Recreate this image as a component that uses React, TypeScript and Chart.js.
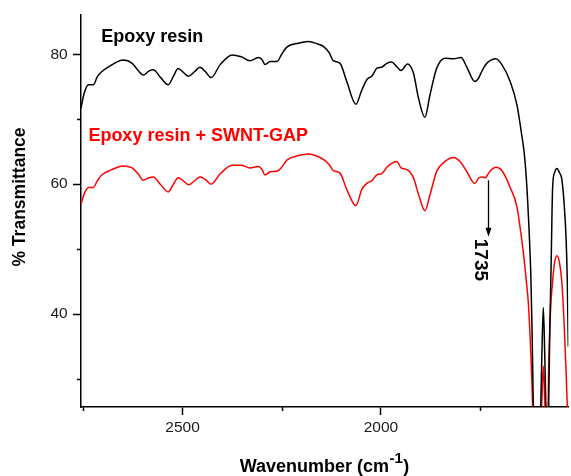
import { useEffect, useRef } from 'react';
import { Chart, registerables } from 'chart.js';

Chart.register(...registerables);

// ---- data (wavenumber, cm-1) ----
const wavenumbers = [
  2756, 2748, 2737, 2725, 2715, 2704, 2680, 2650, 2627, 2612, 2599, 2585, 2574, 2555, 2536, 2523,
  2511, 2498, 2485, 2470, 2456, 2442, 2428, 2405, 2375, 2352, 2330, 2309, 2300, 2292, 2279, 2262,
  2250, 2237, 2208, 2183, 2160, 2145, 2130, 2120, 2103, 2086, 2063, 2048, 2034, 2023, 2009, 1998,
  1985, 1973, 1960, 1949, 1933, 1918, 1905, 1889, 1876, 1859, 1838, 1817, 1798, 1784, 1763, 1754,
  1746, 1737, 1725, 1710, 1695, 1674, 1657, 1645, 1639, 1634, 1628, 1622, 1619, 1616, 1612, 1604,
  1597, 1594, 1590.5, 1587, 1584, 1580, 1577, 1574, 1571, 1567, 1562, 1556, 1550, 1544, 1538, 1533,
  1530, 1527.5,
];

const epoxyResin = [
  71.7, 74.0, 75.3, 75.3, 76.5, 77.3, 78.3, 79.1, 78.6, 77.5, 76.8, 77.4, 77.6, 76.4, 75.3, 76.6,
  77.8, 77.2, 76.6, 77.3, 78.0, 77.3, 76.4, 78.4, 79.9, 79.6, 79.0, 79.5, 79.2, 78.4, 78.9, 78.9,
  80.0, 81.1, 81.7, 81.95, 81.6, 81.2, 80.2, 79.0, 78.6, 75.8, 72.3, 74.5, 76.2, 76.6, 77.9, 78.0,
  78.6, 78.8, 78.1, 77.5, 78.5, 77.1, 73.2, 70.3, 73.8, 77.9, 79.4, 79.3, 79.5, 78.1, 75.8, 76.3,
  77.3, 78.3, 79.0, 79.3, 78.4, 75.8, 72.2, 67.6, 65.0, 61.5, 55.0, 46.0, 38.0, 27.0, 14.0, 5.0,
  25.7, 34.0, 41.0, 34.0, 25.7, 16.0, 25.7, 38.0, 47.0, 59.5, 61.8, 62.4, 61.8, 60.8, 57.0, 51.5,
  45.0, 35.0,
];

const epoxySwntGap = [
  56.9, 58.5, 59.5, 59.5, 60.5, 61.4, 62.2, 62.8, 62.5, 61.6, 60.6, 61.0, 61.1, 59.9, 58.8, 60.0,
  61.0, 60.5, 59.9, 60.5, 61.1, 60.7, 60.0, 61.6, 62.9, 62.9, 62.5, 62.7, 62.3, 61.4, 61.9, 62.0,
  62.6, 63.7, 64.4, 64.65, 64.3, 63.8, 63.0, 62.1, 61.7, 59.2, 56.7, 59.2, 60.2, 60.5, 61.5, 61.6,
  62.6, 63.2, 63.5, 62.5, 62.2, 61.0, 58.4, 55.9, 58.4, 62.0, 63.5, 64.1, 63.3, 62.0, 60.1, 60.9,
  61.1, 61.0, 62.0, 62.6, 62.1, 59.5, 56.5, 51.5, 48.5, 45.5, 41.5, 34.0, 29.0, 23.0, 12.0, 0.0,
  22.0, 27.0, 32.0, 27.0, 22.0, 18.0, 32.0, 38.0, 42.0, 45.1, 48.0, 49.0, 48.0, 45.1, 38.5, 31.0,
  25.7, 22.0,
];

const seriesNames = ['Epoxy resin', 'Epoxy resin + SWNT-GAP'];
const seriesColors = ['#000000', '#ff0000'];

const xRange = [1527.5, 2756];
const yRange = [25.7, 86.1];
const xMajorTicks = [2500, 2000];
const xMinorTicks = [2750, 2250, 1750];
const yMajorTicks = [40, 60, 80];
const yMinorTicks = [30, 50, 70];

const xTitle = 'Wavenumber (cm';
const xTitleSup = '-1';
const xTitleEnd = ')';
const yTitle = '% Transmittance';

// series label anchors (data coords)
const labelAnchors = [
  { x: 2705, y: 81.95 },
  { x: 2737.4, y: 66.6 },
];

// peak annotation
const peakLabel = '1735';
const peakArrowAt = 1729;
const peakArrowFrom = 60.6;
const peakArrowTo = 51.9;

const FONT = "'Liberation Sans', Arial, Helvetica, sans-serif";

const decorPlugin = {
  id: 'decor',
  afterDraw(chart: any) {
    const { ctx, chartArea } = chart;
    const xs = chart.scales.x;
    const ys = chart.scales.y;
    ctx.save();
    // minor ticks
    ctx.strokeStyle = '#000';
    ctx.lineWidth = 1.5;
    ctx.beginPath();
    xMinorTicks.forEach((v) => {
      const px = Math.round(xs.getPixelForValue(v)) + 0.5;
      ctx.moveTo(px, chartArea.bottom);
      ctx.lineTo(px, chartArea.bottom + 4);
    });
    yMinorTicks.forEach((v) => {
      const py = Math.round(ys.getPixelForValue(v)) + 0.5;
      ctx.moveTo(chartArea.left - 4, py);
      ctx.lineTo(chartArea.left, py);
    });
    ctx.stroke();

    // series labels
    ctx.font = `bold 18px ${FONT}`;
    ctx.textAlign = 'left';
    ctx.textBaseline = 'alphabetic';
    seriesNames.forEach((name, i) => {
      ctx.fillStyle = seriesColors[i];
      ctx.fillText(name, xs.getPixelForValue(labelAnchors[i].x), ys.getPixelForValue(labelAnchors[i].y));
    });

    // peak arrow
    const ax = Math.round(xs.getPixelForValue(peakArrowAt)) + 0.5;
    const ay0 = ys.getPixelForValue(peakArrowFrom);
    const ay1 = ys.getPixelForValue(peakArrowTo);
    ctx.strokeStyle = '#000';
    ctx.lineWidth = 1.3;
    ctx.beginPath();
    ctx.moveTo(ax, ay0);
    ctx.lineTo(ax, ay1 - 8);
    ctx.stroke();
    ctx.fillStyle = '#000';
    ctx.beginPath();
    ctx.moveTo(ax - 3, ay1 - 9);
    ctx.lineTo(ax + 3, ay1 - 9);
    ctx.lineTo(ax, ay1);
    ctx.closePath();
    ctx.fill();

    // peak label, rotated clockwise
    ctx.save();
    ctx.translate(ax - 14, ay1 + 2);
    ctx.rotate(Math.PI / 2);
    ctx.font = `bold 19px ${FONT}`;
    ctx.textAlign = 'left';
    ctx.textBaseline = 'alphabetic';
    ctx.fillText(peakLabel, 0, 0);
    ctx.restore();

    // y title
    ctx.save();
    ctx.translate(25, 197);
    ctx.rotate(-Math.PI / 2);
    ctx.font = `bold 17.5px ${FONT}`;
    ctx.textAlign = 'center';
    ctx.textBaseline = 'alphabetic';
    ctx.fillStyle = '#000';
    ctx.fillText(yTitle, 0, 0);
    ctx.restore();

    // x title with superscript
    ctx.fillStyle = '#000';
    ctx.textAlign = 'left';
    ctx.textBaseline = 'alphabetic';
    ctx.font = `bold 18px ${FONT}`;
    const w1 = ctx.measureText(xTitle).width;
    const w3 = ctx.measureText(xTitleEnd).width;
    ctx.font = `bold 15px ${FONT}`;
    const w2 = ctx.measureText(xTitleSup).width;
    const total = w1 + w2 + w3 + 1;
    const cx = 324.5;
    let tx = cx - total / 2;
    const base = 471.5;
    ctx.font = `bold 18px ${FONT}`;
    ctx.fillText(xTitle, tx, base);
    tx += w1 + 0.5;
    ctx.font = `bold 15px ${FONT}`;
    ctx.fillText(xTitleSup, tx, base - 9);
    tx += w2 + 0.5;
    ctx.font = `bold 18px ${FONT}`;
    ctx.fillText(xTitleEnd, tx, base);
    ctx.restore();
  },
};

export default function App() {
  const ref = useRef<HTMLCanvasElement | null>(null);
  useEffect(() => {
    if (!ref.current) return;
    const chart = new Chart(ref.current, {
      type: 'line',
      data: {
        datasets: [epoxyResin, epoxySwntGap].map((vals, i) => ({
          label: seriesNames[i],
          data: wavenumbers.map((w, j) => ({ x: w, y: vals[j] })),
          borderColor: seriesColors[i],
          backgroundColor: seriesColors[i],
          borderWidth: 1.5,
          pointRadius: 0,
          fill: false,
          cubicInterpolationMode: 'monotone',
        })),
      },
      options: {
        animation: false,
        responsive: false,
        devicePixelRatio: 1,
        layout: { padding: { left: 0, top: 13, right: 2.7, bottom: 0 } },
        elements: { line: { capBezierPoints: false } },
        plugins: {
          legend: { display: false },
          tooltip: { enabled: false },
          title: { display: false },
        },
        scales: {
          x: {
            type: 'linear',
            reverse: true,
            min: xRange[0],
            max: xRange[1],
            afterBuildTicks: (s: any) => {
              s.ticks = xMajorTicks.map((v) => ({ value: v }));
            },
            afterFit: (s: any) => {
              s.height = 476 - 407;
            },
            grid: {
              display: true,
              drawOnChartArea: false,
              drawTicks: true,
              tickLength: 8,
              tickColor: '#000',
              tickWidth: 1.5,
            },
            border: { display: true, color: '#000', width: 1.5 },
            ticks: {
              autoSkip: false,
              maxRotation: 0,
              padding: 3.4,
              color: '#1a1a1a',
              font: { family: FONT, size: 15.5 },
              callback: (v: any) => String(v),
            },
          },
          y: {
            type: 'linear',
            min: yRange[0],
            max: yRange[1],
            afterBuildTicks: (s: any) => {
              s.ticks = yMajorTicks.map((v) => ({ value: v }));
            },
            afterFit: (s: any) => {
              s.width = 81;
            },
            grid: {
              display: true,
              drawOnChartArea: false,
              drawTicks: true,
              tickLength: 8,
              tickColor: '#000',
              tickWidth: 1.5,
            },
            border: { display: true, color: '#000', width: 1.5 },
            ticks: {
              padding: 5.3,
              color: '#1a1a1a',
              font: { family: FONT, size: 15.5 },
              callback: (v: any) => String(v),
            },
          },
        },
      },
      plugins: [decorPlugin],
    } as any);
    return () => chart.destroy();
  }, []);
  return (
    <div style={{ position: 'fixed', left: 0, top: 0, width: 571, height: 476, background: '#fff' }}>
      <canvas ref={ref} width={571} height={476} style={{ width: 571, height: 476, display: 'block' }} />
    </div>
  );
}
